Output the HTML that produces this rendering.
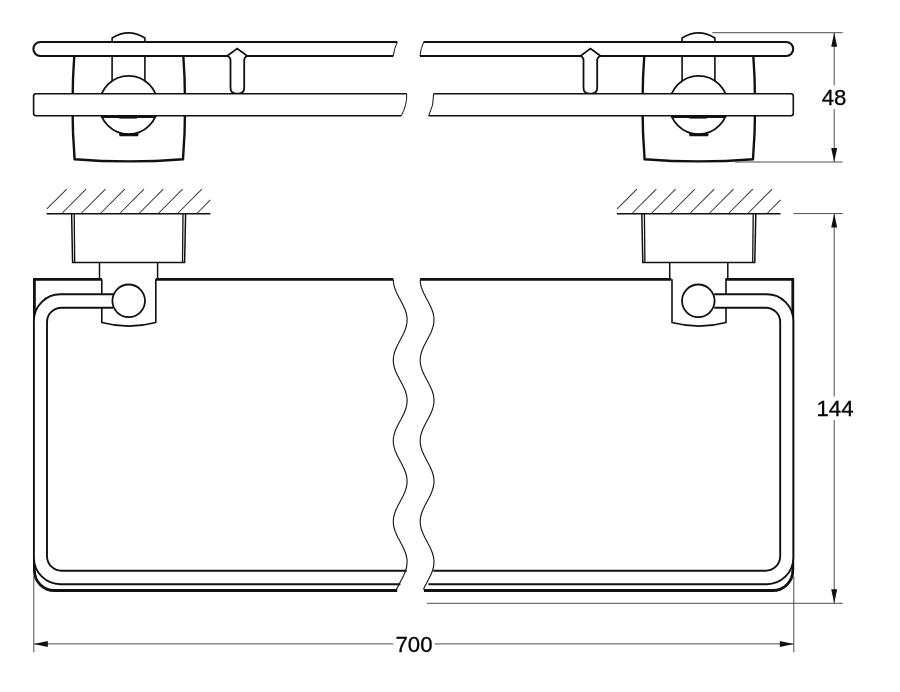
<!DOCTYPE html>
<html>
<head>
<meta charset="utf-8">
<title>Shelf drawing</title>
<style>
html,body{margin:0;padding:0;background:#fff;}
body{width:900px;height:692px;overflow:hidden;font-family:"Liberation Sans",sans-serif;}
svg{display:block;will-change:transform;}
text{font-family:"Liberation Sans",sans-serif;font-size:22.2px;fill:#000;stroke:#000;stroke-width:0.3px;}
</style>
</head>
<body>
<svg width="900" height="692" viewBox="0 0 900 692">
<rect x="0" y="0" width="900" height="692" fill="#ffffff"/>
<defs>
  <g id="tbracket" fill="none" stroke="#111" stroke-linecap="butt">
    <path d="M74.6,50 Q70.4,107 74.6,159.2 Q128.8,163.6 183,159.2 Q187.2,107 183,50" stroke-width="2.4" stroke-linejoin="miter"/>
    <path d="M112.1,82 L112.1,38 Q128.5,27.8 144.9,38 L144.9,82" stroke-width="1.6"/>
    <circle cx="128.6" cy="105.05" r="29.15" stroke-width="1.8" fill="#fff"/>
    <path d="M118.8,133.4 L138.8,133.4 L138,136.3 L119.6,136.3 Z" fill="#111" stroke="none"/>
  </g>
  <g id="tchord">
    <rect x="101.3" y="115.6" width="54.8" height="2.4" fill="#111"/>
    <rect x="119.3" y="115.6" width="17.6" height="3.0" fill="#111"/>
  </g>
  <path id="hook" d="M227.1,56 L237.2,48.6 L247.3,56 Q244.2,57.2 244.2,60 L244.2,87.6 Q244.2,93.6 238.6,93.6 L236.1,93.6 Q230.5,93.6 230.5,87.6 L230.5,60 Q230.5,57.2 227.1,56" fill="#fff" stroke="#111" stroke-width="1.8" stroke-linejoin="miter"/>
  <g id="mount" fill="none" stroke="#111">
    <g stroke="#3a3a3a" stroke-width="1.05">
      <line x1="46.9" y1="208.9" x2="66.7" y2="189.2"/><line x1="61.8" y1="213.5" x2="86.1" y2="189.2"/><line x1="81.1" y1="213.5" x2="105.4" y2="189.2"/><line x1="100.4" y1="213.5" x2="124.7" y2="189.2"/><line x1="119.7" y1="213.5" x2="144.0" y2="189.2"/><line x1="139.0" y1="213.5" x2="163.3" y2="189.2"/><line x1="158.3" y1="213.5" x2="182.6" y2="189.2"/><line x1="177.6" y1="213.5" x2="201.9" y2="189.2"/><line x1="196.9" y1="213.5" x2="210.3" y2="199.8"/>
    </g>
    <line x1="46.7" y1="213.7" x2="210.4" y2="213.7" stroke-width="1.5"/>
    <path d="M71.6,213.7 L72.6,262.4 L184.6,262.4 L185.6,213.7" stroke-width="1.5" stroke-linejoin="miter"/>
    <line x1="74.2" y1="213.7" x2="74.7" y2="262.4" stroke-width="1.3"/>
    <line x1="183" y1="213.7" x2="182.5" y2="262.4" stroke-width="1.3"/>
    <line x1="99.5" y1="262.4" x2="99.5" y2="279.3" stroke-width="1.5"/>
    <line x1="157.6" y1="262.4" x2="157.6" y2="279.3" stroke-width="1.5"/>
    <path d="M101.8,279.3 L101.8,322.5 Q128.8,329.7 155.8,322.5 L155.8,279.3" stroke-width="1.6" fill="#fff"/>
  </g>
  <circle id="fball" cx="128.7" cy="300.8" r="16.3" fill="#fff" stroke="#111" stroke-width="1.8"/>
  
  <g id="fhalfL" fill="none" stroke="#111">
    <path d="M101.8,279.4 L34.4,279.4 L34.4,570.5 A20,20 0 0 0 54.4,590.5 L397.2,590.5" stroke-width="2.8" stroke-linejoin="miter"/>
    <line x1="155.8" y1="279.4" x2="393.3" y2="279.4" stroke-width="2.8"/>
    <path d="M113,294.3 L60.4,294.3 A26.5,26.5 0 0 0 33.9,320.8 L33.9,557.7 A26.5,26.5 0 0 0 60.4,584.2 L400.4,584.2 L406.7,570.7 L61.5,570.7 A14.5,14.5 0 0 1 47,556.2 L47,322.2 A14.5,14.5 0 0 1 61.5,307.7 L113,307.7 Z" fill="#fff" stroke="none"/>
    <path d="M113,294.3 L60.4,294.3 A26.5,26.5 0 0 0 33.9,320.8 L33.9,557.7 A26.5,26.5 0 0 0 60.4,584.2 L400.4,584.2" stroke-width="1.9"/>
    <path d="M113,307.7 L61.5,307.7 A14.5,14.5 0 0 0 47,322.2 L47,556.2 A14.5,14.5 0 0 0 61.5,570.7 L406.7,570.7" stroke-width="1.9"/>
  </g>
  
  <g id="fhalfR" fill="none" stroke="#111">
    <path d="M101.8,279.4 L34.4,279.4 L34.4,570.5 A20,20 0 0 0 54.4,590.5 L403.3,590.5" stroke-width="2.8" stroke-linejoin="miter"/>
    <line x1="155.8" y1="279.4" x2="407.1" y2="279.4" stroke-width="2.8"/>
    <path d="M113,294.3 L60.4,294.3 A26.5,26.5 0 0 0 33.9,320.8 L33.9,557.7 A26.5,26.5 0 0 0 60.4,584.2 L398.8,584.2 L393.9,570.7 L61.5,570.7 A14.5,14.5 0 0 1 47,556.2 L47,322.2 A14.5,14.5 0 0 1 61.5,307.7 L113,307.7 Z" fill="#fff" stroke="none"/>
    <path d="M113,294.3 L60.4,294.3 A26.5,26.5 0 0 0 33.9,320.8 L33.9,557.7 A26.5,26.5 0 0 0 60.4,584.2 L398.8,584.2" stroke-width="1.9"/>
    <path d="M113,307.7 L61.5,307.7 A14.5,14.5 0 0 0 47,322.2 L47,556.2 A14.5,14.5 0 0 0 61.5,570.7 L393.9,570.7" stroke-width="1.9"/>
  </g>
  
  <g id="tbarL" stroke="#111">
    <path d="M397.3,42 L40.4,42 A7,7 0 0 0 40.4,56 L393.3,56" fill="#fff" stroke-width="2.1"/>
    <path d="M397.3,42 Q394.2,48 393.3,56" fill="none" stroke-width="1"/>
  </g>
  
  <g id="tbarR" stroke="#111">
    <path d="M402.9,42 L40.4,42 A7,7 0 0 0 40.4,56 L406.6,56" fill="#fff" stroke-width="2.1"/>
    <path d="M402.9,42 Q405.8,48 406.6,56" fill="none" stroke-width="1"/>
  </g>
  
  <g id="lbarL" stroke="#111">
    <path d="M406.7,93.7 L36,93.7 Q33.6,93.7 33.6,96.1 L33.6,113.3 Q33.6,115.7 36,115.7 L401.3,115.7" fill="#fff" stroke-width="1.6"/>
    <path d="M406.7,93.7 Q407.2,105 401.3,115.7" fill="none" stroke-width="1"/>
  </g>
  
  <g id="lbarR" stroke="#111">
    <path d="M393.3,93.7 L36,93.7 Q33.6,93.7 33.6,96.1 L33.6,113.3 Q33.6,115.7 36,115.7 L398.2,115.7" fill="#fff" stroke-width="1.6"/>
    <path d="M393.3,93.7 Q392.8,105 398.2,115.7" fill="none" stroke-width="1"/>
  </g>
</defs>

<!-- TOP VIEW -->
<use href="#tbracket"/>
<use href="#tbracket" x="570"/>
<use href="#tbarL"/>
<use href="#tbarR" transform="translate(826.6,0) scale(-1,1)"/>
<use href="#hook"/>
<use href="#hook" transform="translate(827.7,0) scale(-1,1)"/>
<use href="#lbarL"/>
<use href="#lbarR" transform="translate(826.9,0) scale(-1,1)"/>
<use href="#tchord"/>
<use href="#tchord" x="570"/>

<!-- FRONT VIEW -->
<use href="#mount"/>
<use href="#mount" x="570.2"/>
<use href="#fhalfL"/>
<use href="#fhalfR" transform="translate(827.2,0) scale(-1,1)"/>
<use href="#fball"/>
<use href="#fball" x="569.6"/>
<g fill="none" stroke="#1a1a1a" stroke-width="1.15">
  <path d="M393.3,279.5 L393.4,281.5 L393.6,283.5 L394.0,285.5 L394.6,287.5 L395.3,289.5 L396.1,291.5 L397.0,293.5 L398.0,295.5 L399.0,297.5 L400.1,299.5 L401.2,301.5 L402.2,303.5 L403.2,305.5 L404.1,307.5 L405.0,309.5 L405.7,311.5 L406.3,313.5 L406.7,315.5 L407.0,317.5 L407.1,319.5 L407.0,321.5 L406.8,323.5 L406.4,325.5 L405.9,327.5 L405.2,329.5 L404.5,331.5 L403.6,333.5 L402.6,335.5 L401.5,337.5 L400.5,339.5 L399.4,341.5 L398.4,343.5 L397.3,345.5 L396.4,347.5 L395.6,349.5 L394.8,351.5 L394.2,353.5 L393.8,355.5 L393.5,357.5 L393.3,359.5 L393.3,361.5 L393.5,363.5 L393.9,365.5 L394.4,367.5 L395.0,369.5 L395.8,371.5 L396.7,373.5 L397.6,375.5 L398.7,377.5 L399.7,379.5 L400.8,381.5 L401.9,383.5 L402.9,385.5 L403.8,387.5 L404.7,389.5 L405.5,391.5 L406.1,393.5 L406.6,395.5 L406.9,397.5 L407.1,399.5 L407.1,401.5 L406.9,403.5 L406.6,405.5 L406.1,407.5 L405.5,409.5 L404.7,411.5 L403.9,413.5 L402.9,415.5 L401.9,417.5 L400.9,419.5 L399.8,421.5 L398.7,423.5 L397.7,425.5 L396.7,427.5 L395.8,429.5 L395.1,431.5 L394.4,433.5 L393.9,435.5 L393.5,437.5 L393.3,439.5 L393.3,441.5 L393.4,443.5 L393.7,445.5 L394.2,447.5 L394.8,449.5 L395.5,451.5 L396.4,453.5 L397.3,455.5 L398.3,457.5 L399.4,459.5 L400.4,461.5 L401.5,463.5 L402.5,465.5 L403.5,467.5 L404.4,469.5 L405.2,471.5 L405.9,473.5 L406.4,475.5 L406.8,477.5 L407.0,479.5 L407.1,481.5 L407.0,483.5 L406.7,485.5 L406.3,487.5 L405.7,489.5 L405.0,491.5 L404.2,493.5 L403.3,495.5 L402.3,497.5 L401.2,499.5 L400.2,501.5 L399.1,503.5 L398.0,505.5 L397.1,507.5 L396.1,509.5 L395.3,511.5 L394.6,513.5 L394.1,515.5 L393.6,517.5 L393.4,519.5 L393.3,521.5 L393.4,523.5 L393.6,525.5 L394.0,527.5 L394.6,529.5 L395.3,531.5 L396.1,533.5 L397.0,535.5 L397.9,537.5 L399.0,539.5 L400.1,541.5 L401.1,543.5 L402.2,545.5 L403.2,547.5 L404.1,549.5 L404.9,551.5 L405.7,553.5 L406.2,555.5 L406.7,557.5 L407.0,559.5 L407.1,561.5 L407.0,563.5 L406.8,565.5 L406.5,567.5 L405.9,569.5 L405.3,571.5 L404.5,573.5 L403.6,575.5 L402.6,577.5 L401.6,579.5 L400.5,581.5 L399.5,583.5 L398.4,585.5 L397.4,587.5 L396.5,589.5"/>
  <path d="M420.2,279.5 L420.3,281.5 L420.5,283.5 L420.9,285.5 L421.5,287.5 L422.2,289.5 L423.0,291.5 L423.9,293.5 L424.9,295.5 L425.9,297.5 L427.0,299.5 L428.1,301.5 L429.1,303.5 L430.1,305.5 L431.0,307.5 L431.9,309.5 L432.6,311.5 L433.2,313.5 L433.6,315.5 L433.9,317.5 L434.0,319.5 L433.9,321.5 L433.7,323.5 L433.3,325.5 L432.8,327.5 L432.1,329.5 L431.4,331.5 L430.5,333.5 L429.5,335.5 L428.4,337.5 L427.4,339.5 L426.3,341.5 L425.3,343.5 L424.2,345.5 L423.3,347.5 L422.5,349.5 L421.7,351.5 L421.1,353.5 L420.7,355.5 L420.4,357.5 L420.2,359.5 L420.2,361.5 L420.4,363.5 L420.8,365.5 L421.3,367.5 L421.9,369.5 L422.7,371.5 L423.6,373.5 L424.5,375.5 L425.6,377.5 L426.6,379.5 L427.7,381.5 L428.8,383.5 L429.8,385.5 L430.7,387.5 L431.6,389.5 L432.4,391.5 L433.0,393.5 L433.5,395.5 L433.8,397.5 L434.0,399.5 L434.0,401.5 L433.8,403.5 L433.5,405.5 L433.0,407.5 L432.4,409.5 L431.6,411.5 L430.8,413.5 L429.8,415.5 L428.8,417.5 L427.8,419.5 L426.7,421.5 L425.6,423.5 L424.6,425.5 L423.6,427.5 L422.7,429.5 L422.0,431.5 L421.3,433.5 L420.8,435.5 L420.4,437.5 L420.2,439.5 L420.2,441.5 L420.3,443.5 L420.6,445.5 L421.1,447.5 L421.7,449.5 L422.4,451.5 L423.3,453.5 L424.2,455.5 L425.2,457.5 L426.3,459.5 L427.3,461.5 L428.4,463.5 L429.4,465.5 L430.4,467.5 L431.3,469.5 L432.1,471.5 L432.8,473.5 L433.3,475.5 L433.7,477.5 L433.9,479.5 L434.0,481.5 L433.9,483.5 L433.6,485.5 L433.2,487.5 L432.6,489.5 L431.9,491.5 L431.1,493.5 L430.2,495.5 L429.2,497.5 L428.1,499.5 L427.1,501.5 L426.0,503.5 L424.9,505.5 L424.0,507.5 L423.0,509.5 L422.2,511.5 L421.5,513.5 L421.0,515.5 L420.5,517.5 L420.3,519.5 L420.2,521.5 L420.3,523.5 L420.5,525.5 L420.9,527.5 L421.5,529.5 L422.2,531.5 L423.0,533.5 L423.9,535.5 L424.8,537.5 L425.9,539.5 L427.0,541.5 L428.0,543.5 L429.1,545.5 L430.1,547.5 L431.0,549.5 L431.8,551.5 L432.6,553.5 L433.1,555.5 L433.6,557.5 L433.9,559.5 L434.0,561.5 L433.9,563.5 L433.7,565.5 L433.4,567.5 L432.8,569.5 L432.2,571.5 L431.4,573.5 L430.5,575.5 L429.5,577.5 L428.5,579.5 L427.4,581.5 L426.4,583.5 L425.3,585.5 L424.3,587.5 L423.4,589.5"/>
</g>

<!-- DIMENSIONS -->
<g stroke="#4d4d4d" stroke-width="1" fill="none">
  <line x1="712.3" y1="32.7" x2="842.6" y2="32.7"/>
  <line x1="735" y1="162" x2="842.6" y2="162"/>
  <line x1="834.2" y1="33" x2="834.2" y2="85.6"/>
  <line x1="834.2" y1="109" x2="834.2" y2="161.7"/>
  <line x1="793.5" y1="213.6" x2="842.8" y2="213.6"/>
  <line x1="427" y1="603.3" x2="842.8" y2="603.3"/>
  <line x1="834.2" y1="214" x2="834.2" y2="396.5"/>
  <line x1="834.2" y1="420" x2="834.2" y2="603"/>
  <line x1="33.8" y1="576" x2="33.8" y2="652.4"/>
  <line x1="793.8" y1="576" x2="793.8" y2="652.4"/>
  <line x1="34" y1="643.9" x2="393.3" y2="643.9"/>
  <line x1="434.8" y1="643.9" x2="793.6" y2="643.9"/>
</g>
<g fill="#111" stroke="none">
  <path d="M834.2,32.7 L831.2,46.8 L837.2,46.8 Z"/>
  <path d="M834.2,162 L831.2,147.9 L837.2,147.9 Z"/>
  <path d="M834.2,213.6 L831.2,227.6 L837.2,227.6 Z"/>
  <path d="M834.2,603.3 L831.2,589.3 L837.2,589.3 Z"/>
  <path d="M33.8,643.9 L47.8,640.9 L47.8,646.9 Z"/>
  <path d="M793.8,643.9 L779.8,640.9 L779.8,646.9 Z"/>
</g>
<g opacity="0.999"><text x="834" y="105.3" text-anchor="middle">48</text>
<text x="835" y="416.4" text-anchor="middle">144</text>
<text x="414" y="652.4" text-anchor="middle">700</text></g>
</svg>
</body>
</html>
